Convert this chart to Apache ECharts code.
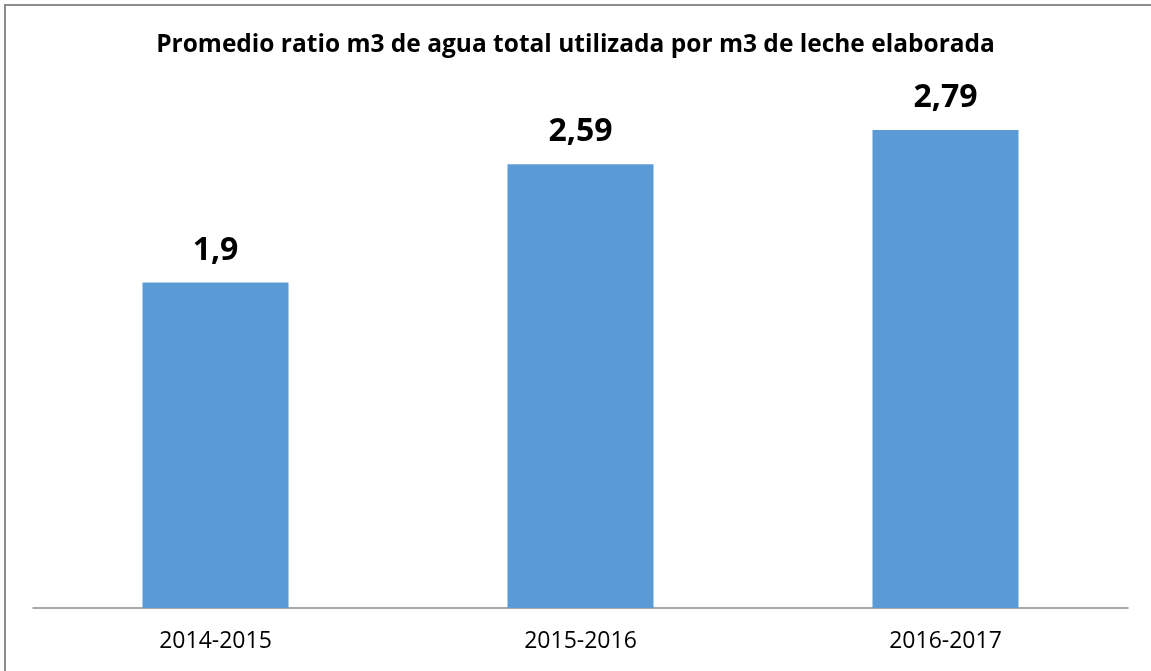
<!DOCTYPE html>
<html><head><meta charset="utf-8">
<style>html,body{margin:0;padding:0;background:#fff}#c{width:1151px;height:671px;position:relative}</style>
<script src="https://cdn.jsdelivr.net/npm/echarts@6/dist/echarts.min.js"></script>
</head><body>
<div id="c"></div>
<script>
const categories = ['2014-2015', '2015-2016', '2016-2017'];
const values = [1.9, 2.59, 2.79];
const titleText = 'Promedio ratio m3 de agua total utilizada por m3 de leche elaborada';

const chart = echarts.init(document.getElementById('c'));
chart.setOption({
  animation: false,
  graphic: [{type:'rect', shape:{x:4,y:4,width:1200,height:2}, style:{fill:'#8c8c8c'}},
            {type:'rect', shape:{x:4,y:4,width:2,height:700}, style:{fill:'#8c8c8c'}}],
  title: {text: titleText, left: 'center', top: 28,
    textStyle: {fontFamily: 'Open Sans', fontWeight: 'bold', fontSize: 24.5, color: '#000'}},
  grid: {left: 33, right: 23, top: 94, bottom: 63},
  xAxis: {type: 'category', data: categories,
    axisLine: {lineStyle: {color: '#8c8c8c', width: 1.5}},
    axisTick: {show: false},
    axisLabel: {fontFamily: 'Open Sans', fontSize: 23, color: '#000', margin: 22}},
  yAxis: {type: 'value', min: 0, max: 3, show: false, splitLine: {show: false}},
  series: [{type: 'bar', data: values, barWidth: '40%',
    itemStyle: {color: '#5b9bd5'},
    label: {show: true, position: 'top', distance: 16,
      fontFamily: 'Open Sans', fontWeight: 'bold', fontSize: 32, color: '#000',
      formatter: p => String(p.value).replace('.', ',')}}]
});
</script>
</body></html>
